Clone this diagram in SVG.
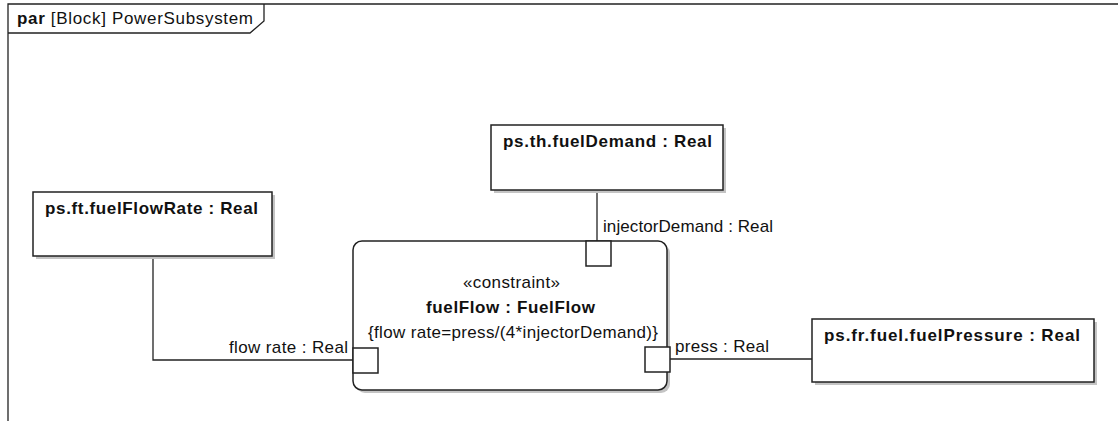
<svg xmlns="http://www.w3.org/2000/svg" width="1118" height="421" viewBox="0 0 1118 421">
<style>
.ln{stroke:#222;stroke-width:1.3;fill:none}
.box{fill:#fff;stroke:#222;stroke-width:1.5}
.sh{fill:#c4c4c4}
.t{font-family:"Liberation Sans",Arial,sans-serif;font-size:17px;fill:#111}
.b{font-weight:bold}
</style>
<rect width="1118" height="421" fill="#fff"/>
<g id="frame">
<path class="ln" d="M8,421 V4 H1118" stroke-width="1.5"/>
<path class="ln" d="M8,33 H250 L264,21 V4"/>
<text class="t" x="17" y="24" textLength="236" lengthAdjust="spacing"><tspan class="b">par</tspan> [Block] PowerSubsystem</text>
</g>
<g id="connectors">
<path class="ln" d="M153,256 V360 H353"/>
<path class="ln" d="M597,190 V241"/>
<path class="ln" d="M670,359 H812"/>
<text class="t" x="229" y="353" textLength="119" lengthAdjust="spacing">flow rate : Real</text>
<text class="t" x="603" y="232" textLength="170" lengthAdjust="spacing">injectorDemand : Real</text>
<text class="t" x="675" y="352" textLength="94" lengthAdjust="spacing">press : Real</text>
</g>
<g id="fuelFlowRate">
<rect class="sh" x="36" y="195" width="239" height="64"/>
<rect class="box" x="33" y="192" width="239" height="64"/>
<text class="t b" x="45" y="214" textLength="213" lengthAdjust="spacing">ps.ft.fuelFlowRate : Real</text>
</g>
<g id="fuelDemand">
<rect class="sh" x="494" y="128" width="232" height="65"/>
<rect class="box" x="491" y="125" width="232" height="65"/>
<text class="t b" x="503" y="147" textLength="209" lengthAdjust="spacing">ps.th.fuelDemand : Real</text>
</g>
<g id="fuelPressure">
<rect class="sh" x="815" y="322" width="282" height="63"/>
<rect class="box" x="812" y="319" width="282" height="63"/>
<text class="t b" x="824" y="341" textLength="256" lengthAdjust="spacing">ps.fr.fuel.fuelPressure : Real</text>
</g>
<g id="fuelFlow">
<rect class="sh" x="356" y="244" width="314" height="149" rx="9"/>
<rect class="box" x="353" y="241" width="314" height="149" rx="9"/>
<text class="t" x="463" y="288" textLength="97" lengthAdjust="spacing">«constraint»</text>
<text class="t b" x="426" y="313" textLength="169" lengthAdjust="spacing">fuelFlow : FuelFlow</text>
<text class="t" x="368" y="338" textLength="290" lengthAdjust="spacing">{flow rate=press/(4*injectorDemand)}</text>
<rect class="box" x="353" y="348" width="25" height="25" stroke-width="1.3"/>
<rect class="box" x="586" y="241" width="25" height="25" stroke-width="1.3"/>
<rect class="box" x="645" y="347" width="25" height="25" stroke-width="1.3"/>
</g>
</svg>
